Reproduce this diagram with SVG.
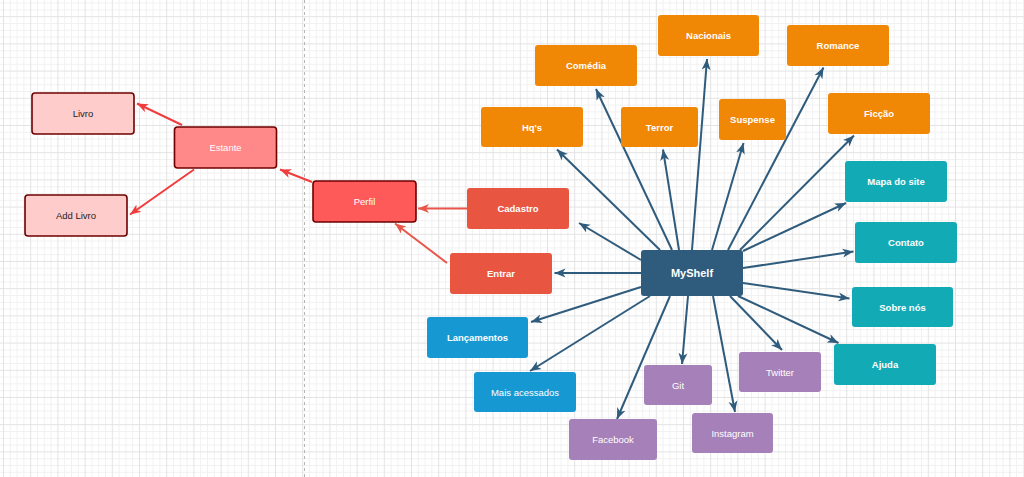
<svg xmlns="http://www.w3.org/2000/svg" width="1024" height="477" viewBox="0 0 1024 477">
<style>
.n{stroke:none}
.pk{fill:#ffcccc;stroke:#6f0000;stroke-width:1.6}
.es{fill:#ff8888;stroke:#6f0000;stroke-width:1.6}
.pf{fill:#ff5a5a;stroke:#6f0000;stroke-width:1.6}
.rd{fill:#e85642}
.or{fill:#f08705}
.tl{fill:#12aab5}
.bl{fill:#1699d3}
.pu{fill:#a680b8}
.hub{fill:#2f5b7c}
text{font-family:"Liberation Sans",Arial,sans-serif;font-size:9.5px;text-anchor:middle;fill:#ffffff}
.b{font-weight:bold}
.dk{fill:#222222}
.eb{fill:none;stroke:#2f5b7c;stroke-width:2;marker-end:url(#ab)}
.er{fill:none;stroke:#e8574a;stroke-width:2;marker-end:url(#ar)}
.er2{fill:none;stroke:#f03c3c;stroke-width:2;marker-end:url(#ar2)}
</style>
<defs>
<pattern id="grid" x="3" y="16.2" width="27.2" height="27.2" patternUnits="userSpaceOnUse">
<path d="M7.3,0V27.2M14.1,0V27.2M20.9,0V27.2M0,7.3H27.2M0,14.1H27.2M0,20.9H27.2" stroke="#f1f1f1" stroke-width="1" fill="none"/>
<path d="M0.5,0V27.2M0,0.5H27.2" stroke="#e3e3e3" stroke-width="1" fill="none"/>
</pattern>
<marker id="ab" markerUnits="userSpaceOnUse" markerWidth="12" markerHeight="10" refX="11" refY="5" orient="auto">
<path d="M0,0.5L11,5L0,9.5L3,5z" fill="#2f5b7c"/>
</marker>
<marker id="ar" markerUnits="userSpaceOnUse" markerWidth="12" markerHeight="10" refX="11" refY="5" orient="auto">
<path d="M0,0.5L11,5L0,9.5L3,5z" fill="#e8574a"/>
</marker>
<marker id="ar2" markerUnits="userSpaceOnUse" markerWidth="12" markerHeight="10" refX="11" refY="5" orient="auto">
<path d="M0,0.5L11,5L0,9.5L3,5z" fill="#f03c3c"/>
</marker>
</defs>
<rect width="1024" height="477" fill="#ffffff"/>
<rect width="1024" height="477" fill="url(#grid)"/>
<line x1="304.5" y1="0" x2="304.5" y2="477" stroke="#b5b5b5" stroke-width="1" stroke-dasharray="3,3"/>
<g id="connectors">
<path class="er2" d="M182,125L137,103.5"/>
<path class="er2" d="M194,169.5L130,214.5"/>
<path class="er2" d="M312,182L280,169.5"/>
<path class="er" d="M467,208.5L418,208.5"/>
<path class="er" d="M447,263L395,223.5"/>
<path class="eb" d="M660,250L557,149.5"/>
<path class="eb" d="M672,250L596,89"/>
<path class="eb" d="M679,250L663,149.5"/>
<path class="eb" d="M692,250L707,59"/>
<path class="eb" d="M712,250L743.5,143"/>
<path class="eb" d="M728,250L823.5,67.5"/>
<path class="eb" d="M740,250L854,135.5"/>
<path class="eb" d="M743,251L846,203"/>
<path class="eb" d="M743,268L853.5,251.5"/>
<path class="eb" d="M743,283L849.5,298.5"/>
<path class="eb" d="M738,296L838.5,343"/>
<path class="eb" d="M730,296L782,350"/>
<path class="eb" d="M713,296L735,412"/>
<path class="eb" d="M688,296L682,364"/>
<path class="eb" d="M670,296L617,419"/>
<path class="eb" d="M650,296L530,371"/>
<path class="eb" d="M641,287L531,322"/>
<path class="eb" d="M641,273L554.5,273"/>
<path class="eb" d="M641,260L579,223"/>
</g>
<g id="livro"><rect class="pk" x="32" y="93" width="102" height="41" rx="3"/><text class="dk" x="83" y="117">Livro</text></g>
<g id="estante"><rect class="es" x="174.5" y="127" width="102" height="41" rx="3"/><text x="225.5" y="151">Estante</text></g>
<g id="addlivro"><rect class="pk" x="25" y="195" width="102" height="41" rx="3"/><text class="dk" x="76" y="219">Add Livro</text></g>
<g id="perfil"><rect class="pf" x="313" y="181" width="103" height="41" rx="3"/><text x="364.5" y="205">Perfil</text></g>
<g id="cadastro"><rect class="rd" x="467" y="188" width="102" height="41" rx="3"/><text class="b" x="518" y="212">Cadastro</text></g>
<g id="entrar"><rect class="rd" x="450" y="253" width="102" height="41" rx="3"/><text class="b" x="501" y="277">Entrar</text></g>
<g id="comedia"><rect class="or" x="535" y="45" width="102" height="41" rx="3"/><text class="b" x="586" y="69">Comédia</text></g>
<g id="nacionais"><rect class="or" x="658" y="15" width="101" height="41" rx="3"/><text class="b" x="708.5" y="39">Nacionais</text></g>
<g id="hqs"><rect class="or" x="481" y="107" width="102" height="40" rx="3"/><text class="b" x="532" y="130.5">Hq's</text></g>
<g id="terror"><rect class="or" x="621" y="107" width="77" height="40" rx="3"/><text class="b" x="659.5" y="130.5">Terror</text></g>
<g id="suspense"><rect class="or" x="719" y="99" width="67" height="41" rx="3"/><text class="b" x="752.5" y="123">Suspense</text></g>
<g id="romance"><rect class="or" x="787" y="25" width="102" height="41" rx="3"/><text class="b" x="838" y="49">Romance</text></g>
<g id="ficcao"><rect class="or" x="828" y="93" width="102" height="41" rx="3"/><text class="b" x="879" y="117">Ficção</text></g>
<g id="mapa"><rect class="tl" x="845" y="161" width="102" height="41" rx="3"/><text class="b" x="896" y="185">Mapa do site</text></g>
<g id="contato"><rect class="tl" x="855" y="222" width="102" height="41" rx="3"/><text class="b" x="906" y="246">Contato</text></g>
<g id="sobre"><rect class="tl" x="852" y="287" width="101" height="40" rx="3"/><text class="b" x="902.5" y="310.5">Sobre nós</text></g>
<g id="ajuda"><rect class="tl" x="834" y="344" width="102" height="41" rx="3"/><text class="b" x="885" y="368">Ajuda</text></g>
<g id="lancamentos"><rect class="bl" x="427" y="317" width="101" height="41" rx="3"/><text class="b" x="477.5" y="341">Lançamentos</text></g>
<g id="maisacessados"><rect class="bl" x="474" y="372" width="102" height="40" rx="3"/><text x="525" y="395.5">Mais acessados</text></g>
<g id="facebook"><rect class="pu" x="569" y="419" width="88" height="41" rx="3"/><text x="613" y="443">Facebook</text></g>
<g id="git"><rect class="pu" x="644" y="365" width="68" height="40" rx="3"/><text x="678" y="388.5">Git</text></g>
<g id="instagram"><rect class="pu" x="692" y="413" width="81" height="40" rx="3"/><text x="732.5" y="436.5">Instagram</text></g>
<g id="twitter"><rect class="pu" x="739" y="352" width="82" height="40" rx="3"/><text x="780" y="375.5">Twitter</text></g>
<g id="myshelf"><rect class="hub" x="641" y="250" width="102" height="46" rx="3"/><text class="b" x="692" y="277" style="font-size:11px">MyShelf</text></g>
</svg>
